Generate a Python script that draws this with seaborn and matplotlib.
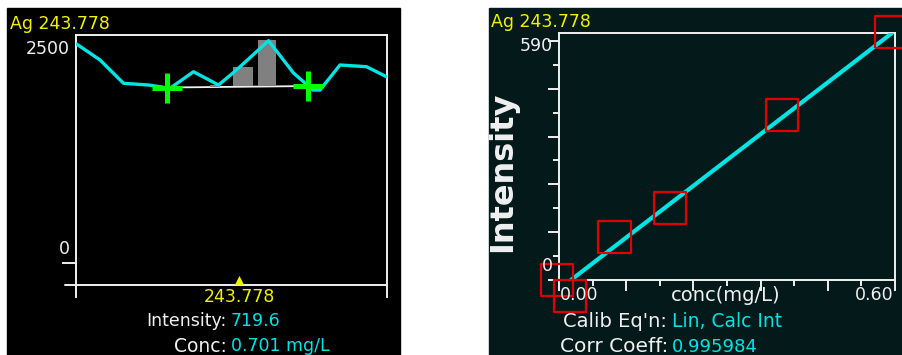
import matplotlib
matplotlib.use("Agg")
import matplotlib.pyplot as plt
from matplotlib.patches import Rectangle
from matplotlib.ticker import MultipleLocator
import pandas as pd
import seaborn as sns

# --- left panel: Ag 243.778 spectrum window ---
spec_wl = [243.7455, 243.7502, 243.7549, 243.7599, 243.7642, 243.7689, 243.7739,
           243.7775, 243.7839, 243.7889, 243.7928, 243.7942, 243.7982, 243.8035, 243.8075]
spec_int = [2535, 2350, 2080, 2060, 2022, 2214, 2060,
            2234, 2573, 2199, 2002, 2002, 2292, 2272, 2156]
bar_wl = [243.7732, 243.7788, 243.7836]
bar_top = [2060, 2268, 2581]
bar_base = [2038, 2043, 2048]
bar_w = [0.002, 0.004, 0.0036]
bg_wl = [243.7636, 243.7918]      # background correction points
bg_int = [2031, 2048]
peak_wl = 243.778
intensity = "719.6"
conc = "0.701 mg/L"

# --- right panel: calibration curve ---
std_conc = [-0.004, 0.020, 0.099, 0.198, 0.398, 0.594]
std_int = [0, -40, 108, 181, 414, 623]
fit_conc = [0.0214, 0.5946]
fit_int = [0, 620]
calib_eq = "Lin, Calc Int"
corr_coeff = "0.995984"

YELLOW = "#f2f200"
CYAN = "#00e4e4"
WHITE = "#f0f0f0"
RED = "#e00000"
GREEN = "#00ff00"
DARK = "#03191a"

sns.set_theme(style="dark")
plt.rcParams["font.family"] = ["DejaVu Sans"]

W, H = 902, 355
fig = plt.figure(figsize=(W / 100, H / 100), dpi=100)
fig.patch.set_facecolor("white")


def fx(px):
    return px / W


def fy(py):
    return 1 - py / H


def label(px, py, s, color=WHITE, size=12.5, ha="left", **kw):
    # py is the visual middle of the digits, so shift down to the baseline
    base = py + 0.365 * size * 100 / 72
    fig.text(fx(px), fy(base), s, color=color, fontsize=size, ha=ha, va="baseline", **kw)


fig.patches.append(Rectangle((fx(7), 0), fx(400) - fx(7), fy(8), transform=fig.transFigure,
                             color="black", zorder=-1))
fig.patches.append(Rectangle((fx(489), 0), 1 - fx(489), fy(8), transform=fig.transFigure,
                             color=DARK, zorder=-1))

# left axes
ax1 = fig.add_axes([fx(76), fy(297), fx(387) - fx(76), fy(35) - fy(297)])
ax1.set_facecolor("black")
ax1.grid(False)
ax1.set_xlim(243.7454, 243.8076)
ax1.set_ylim(-394, 2639)
for side in ["left", "right", "top"]:
    ax1.spines[side].set_color(WHITE)
    ax1.spines[side].set_linewidth(1.4)
ax1.spines["bottom"].set_visible(False)
ax1.axhline(-255, xmin=-11 / 311, xmax=1, color=WHITE, lw=1.4, clip_on=False)
ax1.set_xticks([])
ax1.set_yticks([0])
ax1.tick_params(axis="y", length=10, width=1.4, color=WHITE, direction="out", left=True,
                labelleft=False)

sns.lineplot(x=bg_wl, y=bg_int, color=WHITE, lw=1.3, ax=ax1, zorder=2)
ax1.bar(bar_wl, [t - b for t, b in zip(bar_top, bar_base)], bottom=bar_base, width=bar_w,
        color="#808080", edgecolor="none", linewidth=0, zorder=3)
spec = pd.DataFrame({"wl": spec_wl, "int": spec_int})
sns.lineplot(data=spec, x="wl", y="int", sort=False, color=CYAN, lw=2.4, ax=ax1, zorder=4)
sns.scatterplot(x=bg_wl, y=bg_int, marker="+", s=480, color=GREEN, linewidth=3.6,
                ax=ax1, zorder=5)
sns.scatterplot(x=[peak_wl], y=[-200], marker="^", s=45, color=YELLOW, linewidth=0,
                ax=ax1, zorder=5)
ax1.set_xlabel("")
ax1.set_ylabel("")

label(10, 23, "Ag 243.778", YELLOW)
label(70, 48, "2500", ha="right")
label(70, 248, "0", ha="right")
label(239, 296, f"{peak_wl:.3f}", YELLOW, ha="center")
label(226, 320, "Intensity:", ha="right")
label(231, 320, intensity, CYAN)
label(227, 345, "Conc:", ha="right", size=13.5)
label(231, 345, conc, CYAN)

# right axes
ax2 = fig.add_axes([fx(559), fy(280), fx(895) - fx(559), fy(33) - fy(280)])
ax2.set_facecolor(DARK)
ax2.grid(False)
ax2.set_xlim(0, 0.6)
ax2.set_ylim(0, 620)
for side in ax2.spines.values():
    side.set_color(WHITE)
    side.set_linewidth(1.4)
ax2.xaxis.set_major_locator(MultipleLocator(0.12))
ax2.xaxis.set_minor_locator(MultipleLocator(0.06))
ax2.yaxis.set_major_locator(MultipleLocator(120))
ax2.yaxis.set_minor_locator(MultipleLocator(60))
ax2.tick_params(which="major", length=8, width=1.4, color=WHITE, direction="out",
                bottom=True, left=True, labelbottom=False, labelleft=False)
ax2.tick_params(which="minor", length=4.5, width=1.4, color=WHITE, direction="out",
                bottom=True, left=True)

sns.lineplot(x=fit_conc, y=fit_int, color=CYAN, lw=3, ax=ax2, zorder=3)
sns.scatterplot(x=std_conc, y=std_int, marker="s", s=548, facecolor="none", edgecolor=RED,
                linewidth=1.6, clip_on=False, ax=ax2, zorder=4)
ax2.set_xlabel("")
ax2.set_ylabel("")

label(491, 21, "Ag 243.778", YELLOW)
label(553, 45, "590", ha="right")
label(553, 265, "0", ha="right")
fig.text(fx(503), fy(172), "Intensity", color=WHITE, fontsize=23, fontweight="bold",
         rotation=90, ha="center", va="center")
label(560, 293.5, "0.00")
label(893, 293.5, "0.60", ha="right")
label(726, 293.5, "conc(mg/L)", ha="center", size=14)
label(667, 320, "Calib Eq'n:", ha="right", size=14)
label(672, 320, calib_eq, CYAN, size=13.5)
label(668, 345, "Corr Coeff:", ha="right", size=14.5)
label(672, 345, corr_coeff, CYAN, size=13)

fig.savefig("out.png", dpi=100, facecolor=fig.get_facecolor())
